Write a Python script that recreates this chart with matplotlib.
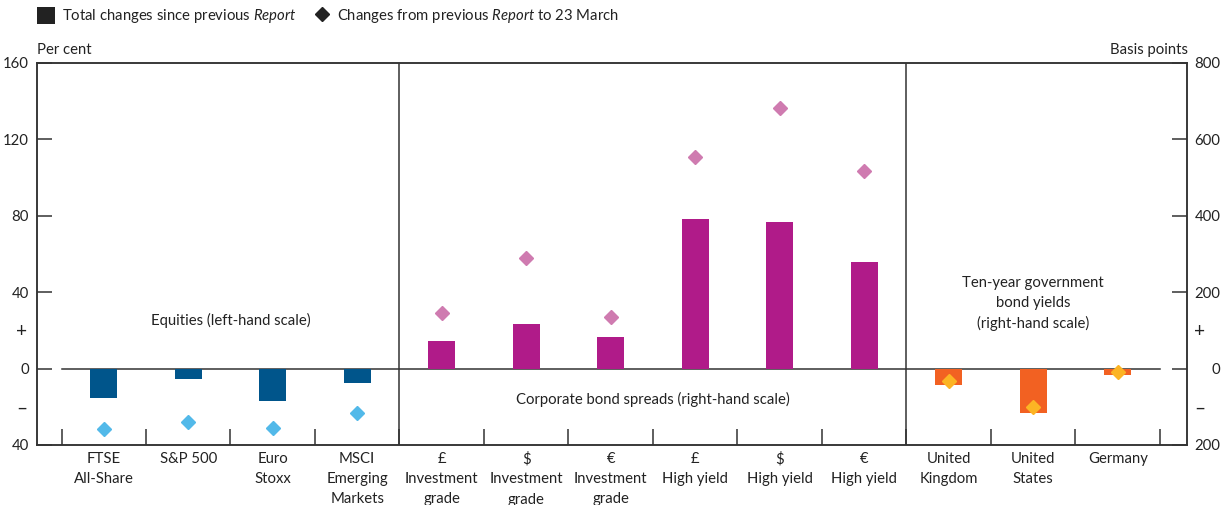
import numpy as np
import matplotlib
matplotlib.use("Agg")
import matplotlib.pyplot as plt
from matplotlib.patches import Patch
from matplotlib.lines import Line2D

plt.rcParams['font.family'] = ['Lato', 'DejaVu Sans']
plt.rcParams['mathtext.fontset'] = 'custom'
plt.rcParams['mathtext.it'] = 'Lato:italic'
plt.rcParams['mathtext.rm'] = 'Lato'

# --- data ---
categories = ["FTSE\nAll-Share", "S&P 500", "Euro\nStoxx", "MSCI\nEmerging\nMarkets",
              "£\nInvestment\ngrade", "$\nInvestment\ngrade", "€\nInvestment\ngrade",
              "£\nHigh yield", "$\nHigh yield", "€\nHigh yield",
              "United\nKingdom", "United\nStates", "Germany"]
# equities, per cent (left-hand scale)
equity_total = [-15.3, -5.6, -17.1, -7.7]
equity_to_march = [-31.7, -28.2, -31.3, -23.1]
# corporate bond spreads, basis points (right-hand scale)
corp_total = [71, 117, 83, 391, 383, 279]
corp_to_march = [146, 289, 136, 553, 683, 516]
# ten-year government bond yields, basis points (right-hand scale)
gov_total = [-43, -115, -17]
gov_to_march = [-32, -101, -9]

DARK = "#333333"
TXT = "#222222"
FS = 10.7

fig = plt.figure(figsize=(12.27, 5.05), dpi=100)
ax = fig.add_axes([37 / 1227, 1 - 445 / 505, 1150 / 1227, 382 / 505])
ax2 = ax.twinx()

x = np.arange(len(categories))
xe, xc, xg = x[:4], x[4:10], x[10:]
w = 0.32

ax.bar(xe, equity_total, width=w, color="#00558B", zorder=3)
ax.plot(xe, equity_to_march, "D", color="#52B9E9", ms=7.5, zorder=4)
ax2.bar(xc, corp_total, width=w, color="#B01B89", zorder=3)
ax2.plot(xc, corp_to_march, "D", color="#CF7BB0", ms=7.5, zorder=4)
ax2.bar(xg, gov_total, width=w, color="#F26122", zorder=3)
ax2.plot(xg, gov_to_march, "D", color="#FCB424", ms=7.5, zorder=4)

ax.set_xlim(-0.79, 12.82)
ax.set_ylim(-40, 160)
ax2.set_ylim(-200, 800)

# zero line and panel dividers
ax.plot([-0.5, 12.5], [0, 0], color=DARK, lw=1.1, zorder=2)
for d in [3.5, 9.5]:
    ax.axvline(d, color=DARK, lw=1.1, zorder=2)

for a in (ax, ax2):
    for s in a.spines.values():
        s.set_color(DARK)
        s.set_linewidth(1.1)

# x: boundary ticks (major) and category labels (minor)
ax.set_xticks(np.arange(-0.5, 13, 1))
ax.set_xticklabels([])
ax.tick_params(axis="x", which="major", direction="in", length=11.5, width=1.1, color=DARK)
ax.set_xticks(x, minor=True)
ax.set_xticklabels(categories, minor=True, fontsize=FS, color=TXT, linespacing=1.55)
ax.tick_params(axis="x", which="minor", length=0, pad=5)

# left axis
ax.set_yticks([-40, 0, 40, 80, 120, 160])
ax.set_yticklabels(["40", "0", "40", "80", "120", "160"], fontsize=FS, color=TXT)
ax.set_yticks([-20, 20], minor=True)
ax.set_yticklabels(["\u2013", "+"], minor=True, fontsize=FS + 3, color=TXT)
ax.tick_params(axis="y", which="major", direction="in", length=11, width=1.1, color=DARK, pad=6)
ax.tick_params(axis="y", which="minor", length=0, pad=7)

# right axis
ax2.set_yticks([-200, 0, 200, 400, 600, 800])
ax2.set_yticklabels(["200", "0", "200", "400", "600", "800"], fontsize=FS, color=TXT)
for t in ax2.get_yticklabels():
    t.set_horizontalalignment("right")
ax2.set_yticks([-100, 100], minor=True)
ax2.set_yticklabels(["\u2013", "+"], minor=True, fontsize=FS + 3, color=TXT)
ax2.tick_params(axis="y", which="major", direction="in", length=11, width=1.1, color=DARK, pad=24)
ax2.tick_params(axis="y", which="minor", length=0, pad=5)

# panel annotations
ax.text(1.5, 25, "Equities (left-hand scale)", ha="center", va="center", fontsize=FS, color=TXT)
ax.text(6.5, -16, "Corporate bond spreads (right-hand scale)", ha="center", va="center",
        fontsize=FS, color=TXT)
ax.text(11.0, 34, "Ten-year government\nbond yields\n(right-hand scale)", ha="center", va="center",
        fontsize=FS, color=TXT, linespacing=1.5)

fig.text(37 / 1227, 1 - 50 / 505, "Per cent", ha="left", va="center", fontsize=FS, color=TXT)
fig.text(1188 / 1227, 1 - 50 / 505, "Basis points", ha="right", va="center", fontsize=FS, color=TXT)

# legend
handles = [Patch(facecolor=TXT, edgecolor="none"),
           Line2D([], [], marker="D", color=TXT, ls="none", ms=7.5)]
labels = [r"Total changes since previous $\mathit{Report}$",
          r"Changes from previous $\mathit{Report}$ to 23 March"]
fig.legend(handles, labels, loc="upper left", bbox_to_anchor=(0.0195, 1.012), ncol=2,
           frameon=False, fontsize=FS, handlelength=1.2, handleheight=1.3,
           handletextpad=0.45, columnspacing=1.1, labelcolor=TXT)

fig.savefig("out.png", dpi=100)
